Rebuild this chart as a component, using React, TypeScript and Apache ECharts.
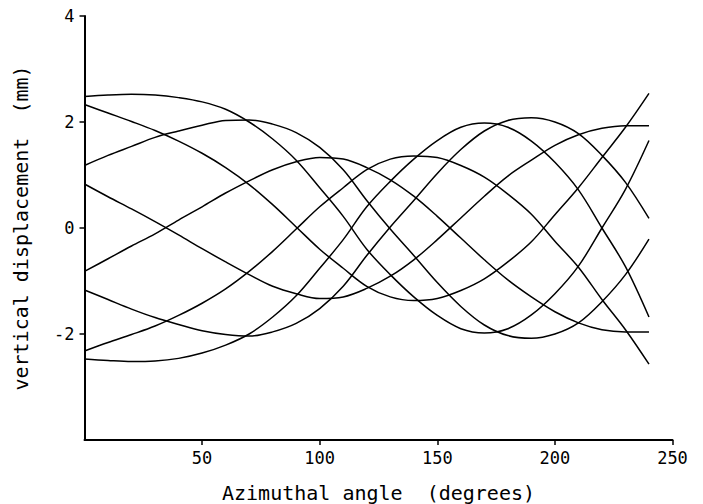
import React, { useEffect, useRef } from "react";
import * as echarts from "echarts";

const xs = [0, 10, 20, 30, 40, 50, 60, 70, 80, 90, 100, 110, 120, 130, 140, 150, 160, 170, 180, 190, 200, 210, 220, 230, 240];

const c1 = [2.48, 2.51, 2.525, 2.51, 2.46, 2.38, 2.24, 2.0, 1.68, 1.28, 0.76, 0.22, -0.4, -0.88, -1.3, -1.65, -1.9, -1.98, -1.9, -1.64, -1.24, -0.72, 0.0, 0.73, 1.65];
const c2 = [2.33, 2.17, 2.01, 1.84, 1.64, 1.41, 1.14, 0.82, 0.44, 0.02, -0.4, -0.76, -1.1, -1.3, -1.37, -1.33, -1.18, -0.96, -0.64, -0.26, 0.25, 0.76, 1.33, 1.9, 2.54];
const c3 = [1.18, 1.37, 1.54, 1.71, 1.83, 1.94, 2.03, 2.04, 1.96, 1.8, 1.52, 1.1, 0.52, -0.02, -0.52, -1.03, -1.48, -1.83, -2.03, -2.08, -2.0, -1.79, -1.39, -0.88, -0.21];
const c4 = [0.83, 0.59, 0.36, 0.12, -0.13, -0.39, -0.64, -0.88, -1.1, -1.24, -1.33, -1.3, -1.14, -0.91, -0.6, -0.22, 0.19, 0.6, 0.98, 1.28, 1.56, 1.76, 1.88, 1.93, 1.93];
const c5 = [-0.82, -0.58, -0.34, -0.11, 0.15, 0.4, 0.66, 0.89, 1.1, 1.25, 1.33, 1.3, 1.14, 0.91, 0.6, 0.22, -0.19, -0.6, -0.98, -1.3, -1.58, -1.79, -1.92, -1.96, -1.96];
const c6 = [-1.17, -1.35, -1.53, -1.69, -1.82, -1.94, -2.01, -2.04, -1.96, -1.8, -1.52, -1.1, -0.52, 0.02, 0.52, 1.03, 1.48, 1.83, 2.03, 2.08, 2.0, 1.78, 1.37, 0.86, 0.18];
const c7 = [-2.32, -2.16, -2.01, -1.85, -1.65, -1.42, -1.15, -0.82, -0.44, -0.02, 0.4, 0.76, 1.1, 1.3, 1.36, 1.33, 1.18, 0.96, 0.64, 0.26, -0.25, -0.74, -1.35, -1.92, -2.57];
const c8 = [-2.47, -2.5, -2.52, -2.51, -2.46, -2.36, -2.21, -2.0, -1.68, -1.28, -0.76, -0.22, 0.4, 0.88, 1.3, 1.65, 1.9, 1.98, 1.9, 1.64, 1.24, 0.72, 0.0, -0.73, -1.68];

const curves = [c1, c2, c3, c4, c5, c6, c7, c8];

const xTicks = [50, 100, 150, 200, 250];
const yTicks = [-2, 0, 2, 4];

const xTitle = "Azimuthal angle\u00A0 (degrees)";
const yTitle = "vertical displacement\u00A0 (mm)";

const FONT = "DejaVu Sans Mono";

export default function App() {
  const ref = useRef<HTMLDivElement>(null);
  useEffect(() => {
    if (!ref.current) return;
    const chart = echarts.init(ref.current, undefined, { renderer: "svg" });
    const axisCommon = {
      axisLine: { onZero: false, lineStyle: { color: "#000", width: 2 } },
      splitLine: { show: false },
      nameTextStyle: { color: "#000", fontFamily: FONT, fontSize: 20 },
    };
    const tick = { show: true, inside: false, length: 5, lineStyle: { color: "#000", width: 1.5 } };
    const label = { color: "#000", fontFamily: FONT, fontSize: 17 };
    chart.setOption({
      animation: false,
      backgroundColor: "#fff",
      grid: {
        left: 84.5,
        top: 16,
        width: 588,
        height: 424,
        containLabel: false,
        outerBoundsMode: "none",
      },
      xAxis: {
        type: "value",
        min: 0,
        max: 250,
        interval: 50,
        name: xTitle,
        nameLocation: "middle",
        nameGap: 43,
        ...axisCommon,
        axisTick: { ...tick, customValues: xTicks },
        axisLabel: { ...label, margin: 9, customValues: xTicks },
      },
      yAxis: {
        type: "value",
        min: -4,
        max: 4,
        interval: 2,
        name: yTitle,
        nameLocation: "middle",
        nameGap: 54,
        ...axisCommon,
        axisTick: { ...tick, customValues: yTicks },
        axisLabel: { ...label, margin: 10, customValues: yTicks },
      },
      series: curves.map((c, i) => ({
        type: "line",
        name: "c" + (i + 1),
        data: xs.map((x, j) => [x, c[j]]),
        smooth: 0.35,
        showSymbol: false,
        symbol: "none",
        lineStyle: { color: "#000", width: 1.5 },
        silent: true,
      })),
    });
    return () => chart.dispose();
  }, []);
  return <div ref={ref} style={{ width: 703, height: 504, position: "absolute", left: 0, top: 0 }} />;
}
